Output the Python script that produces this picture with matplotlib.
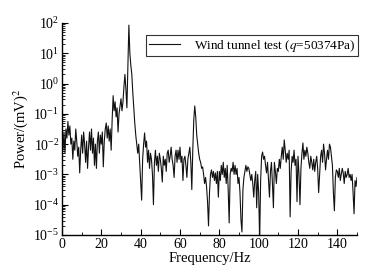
import numpy as np
import matplotlib
matplotlib.use("Agg")
import matplotlib.pyplot as plt
from matplotlib.ticker import LogLocator, LogFormatterMathtext, MultipleLocator, NullFormatter

plt.rcParams['font.family'] = ['Liberation Serif', 'DejaVu Serif']
plt.rcParams['mathtext.fontset'] = 'stix'

# Frequency step of 0.5 Hz from 0 to 150 Hz
freq_start = 0.0
freq_step = 0.5

# log10 of power, per 10 Hz block (20 samples each)
log_power_0_10 = [-1.9, -2.2, -1.6, -2.3, -1.5, -1.8, -1.25, -1.7, -1.4, -2.0,
                  -1.8, -2.5, -1.9, -2.2, -1.5, -1.9, -2.4, -2.1, -2.95, -2.2]
log_power_10_20 = [-1.7, -2.3, -1.6, -2.0, -2.6, -1.9, -2.8, -2.1, -1.6, -2.2,
                   -1.5, -2.3, -1.8, -2.7, -2.0, -2.8, -1.9, -1.6, -2.3, -1.7]
log_power_20_30 = [-2.0, -1.6, -2.75, -1.9, -1.5, -1.3, -1.8, -1.4, -1.9, -1.5,
                   -2.2, -1.2, -0.4, -0.9, -0.6, -1.1, -0.8, -1.6, -1.0, -0.75]
log_power_30_40 = [-0.5, -0.9, -0.6, -0.1, 0.3, -0.2, -0.8, 0.6, 1.93, 1.0,
                   0.6, 0.3, -0.3, -0.8, -1.3, -1.7, -2.0, -2.3, -2.0, -2.6]
log_power_40_50 = [-3.2, -3.85, -2.5, -2.0, -1.63, -2.1, -1.9, -2.6, -2.2, -2.8,
                   -2.3, -2.5, -3.0, -4.0, -2.6, -2.2, -2.7, -2.4, -2.9, -2.3]
log_power_50_60 = [-2.5, -2.8, -3.25, -2.4, -2.7, -2.5, -2.9, -2.3, -2.2, -2.6,
                   -2.4, -2.1, -2.5, -2.7, -3.1, -2.4, -2.2, -2.6, -2.2, -2.5]
log_power_60_70 = [-2.1, -2.6, -2.4, -3.2, -2.5, -2.4, -2.7, -3.1, -2.5, -2.3,
                   -2.1, -2.6, -3.5, -2.2, -1.2, -0.74, -1.1, -1.7, -2.0, -2.3]
log_power_70_80 = [-2.5, -2.6, -2.8, -2.75, -3.0, -3.3, -3.1, -3.4, -3.9, -4.7,
                   -3.6, -3.0, -2.85, -3.1, -2.9, -3.2, -2.95, -3.3, -2.9, -3.75]
log_power_80_90 = [-2.9, -3.2, -2.7, -3.0, -2.6, -3.1, -2.8, -3.3, -2.7, -3.5,
                   -4.6, -3.0, -2.8, -2.9, -2.6, -3.0, -2.7, -3.0, -2.8, -3.3]
log_power_90_100 = [-3.1, -3.6, -4.5, -4.9, -3.5, -3.1, -2.9, -2.7, -2.9, -2.75,
                    -2.8, -3.0, -3.2, -3.0, -3.3, -3.75, -3.2, -2.9, -4.1, -3.0]
log_power_100_110 = [-3.6, -5.2, -3.2, -2.4, -2.26, -2.5, -2.4, -2.7, -2.95, -2.6,
                     -3.2, -3.75, -2.9, -2.6, -3.3, -4.1, -2.6, -2.9, -3.3, -2.8]
log_power_110_120 = [-2.9, -2.5, -2.8, -2.4, -2.1, -2.5, -1.86, -2.2, -2.6, -2.3,
                     -2.5, -2.2, -4.4, -2.9, -2.4, -2.6, -2.2, -2.7, -2.5, -3.9]
log_power_120_130 = [-2.4, -3.0, -4.0, -2.8, -2.3, -1.96, -2.5, -2.2, -2.4, -2.1,
                     -2.3, -2.6, -2.8, -2.4, -2.6, -2.85, -2.5, -2.9, -2.6, -2.4]
log_power_130_140 = [-2.8, -3.6, -3.0, -2.4, -2.2, -2.6, -2.0, -2.3, -2.85, -2.5,
                     -2.2, -2.5, -2.0, -2.1, -2.4, -2.7, -3.6, -4.2, -3.1, -2.85]
log_power_140_150 = [-2.9, -3.1, -2.8, -3.2, -3.0, -2.8, -2.95, -3.3, -2.9, -3.1,
                     -3.0, -2.8, -3.1, -3.0, -3.2, -3.0, -3.6, -4.3, -3.2, -3.4,
                     -3.1]

log_power = (log_power_0_10 + log_power_10_20 + log_power_20_30 + log_power_30_40 +
             log_power_40_50 + log_power_50_60 + log_power_60_70 + log_power_70_80 +
             log_power_80_90 + log_power_90_100 + log_power_100_110 + log_power_110_120 +
             log_power_120_130 + log_power_130_140 + log_power_140_150)

freq = freq_start + freq_step * np.arange(len(log_power))
power = 10.0 ** np.array(log_power)

legend_label = r'Wind tunnel test ($\mathit{q}$=50374Pa)'

fig = plt.figure(figsize=(3.67, 2.71), dpi=100)
ax = fig.add_axes([62/367, 36/271, 295/367, 212/271])

ax.plot(freq, power, color='#111111', linewidth=0.8, label=legend_label)
ax.set_yscale('log')
ax.set_xlim(0, 150)
ax.set_ylim(1e-5, 1e2)

ax.xaxis.set_major_locator(MultipleLocator(20))
ax.xaxis.set_minor_locator(MultipleLocator(10))
ax.yaxis.set_major_locator(LogLocator(base=10, numticks=10))
ax.yaxis.set_minor_locator(LogLocator(base=10, subs=np.arange(2, 10), numticks=20))
ax.yaxis.set_major_formatter(LogFormatterMathtext())
ax.yaxis.set_minor_formatter(NullFormatter())

ax.spines['top'].set_visible(False)
ax.spines['right'].set_visible(False)
for s in ('left', 'bottom'):
    ax.spines[s].set_linewidth(1.0)

ax.tick_params(which='both', direction='in', labelsize=10, pad=2)
ax.tick_params(which='major', length=4, width=0.8)
ax.tick_params(which='minor', length=2, width=0.6)

ax.set_xlabel('Frequency/Hz', fontsize=10.5, labelpad=1)
ax.set_ylabel(r'Power/(mV)$^2$', fontsize=10.5, labelpad=2)

leg = ax.legend(loc='upper right', bbox_to_anchor=(1.003, 1 - 12/212), borderaxespad=0,
                fancybox=False, frameon=True, fontsize=9.5, handlelength=2.4,
                handletextpad=1.0, borderpad=0.2)
leg.get_frame().set_edgecolor('black')
leg.get_frame().set_linewidth(0.8)

fig.savefig('out.png', dpi=100)
